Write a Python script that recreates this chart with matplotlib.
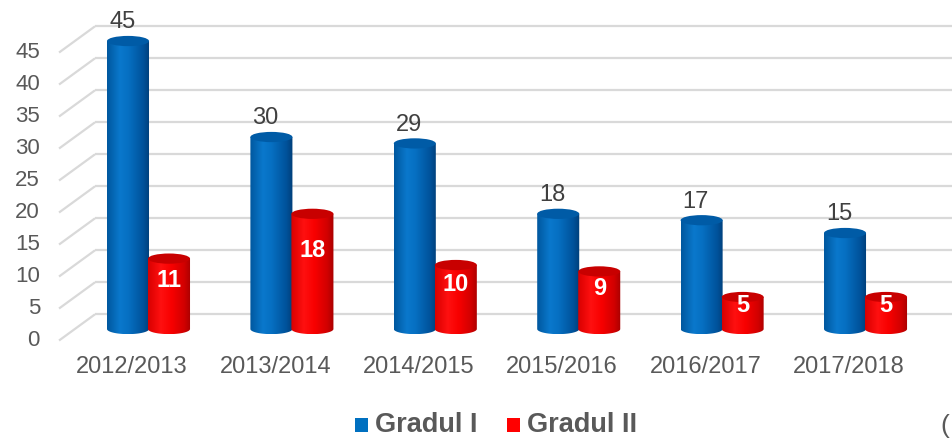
import numpy as np
import matplotlib
matplotlib.use("Agg")
import matplotlib.pyplot as plt
from matplotlib.patches import Ellipse, PathPatch, Rectangle
from matplotlib.path import Path
from matplotlib.colors import LinearSegmentedColormap

plt.rcParams['font.family'] = ['Liberation Sans', 'DejaVu Sans']

categories = ['2012/2013', '2013/2014', '2014/2015', '2015/2016', '2016/2017', '2017/2018']
gradul_1 = [45, 30, 29, 18, 17, 15]
gradul_2 = [11, 18, 10, 9, 5, 5]
y_ticks = [0, 5, 10, 15, 20, 25, 30, 35, 40, 45]
series_names = ['Gradul I', 'Gradul II']

W, H = 952, 438
fig = plt.figure(figsize=(W / 100, H / 100), dpi=100)
ax = fig.add_axes([0, 0, 1, 1])
ax.set_xlim(-1.0356, 5.603)
ax.set_ylim(-17.03, 51.41)
ax.axis('off')

grid_c = '#D9D9D9'
text_c = '#595959'

# 3D-like gridlines (front-left diagonal + back wall)
for v in y_ticks:
    ax.plot([-0.624, -0.373], [v - 1.8, v + 2.3], color=grid_c, lw=1.6, zorder=1,
            solid_capstyle='butt')
    ax.plot([-0.373, 5.7], [v + 2.3, v + 2.3], color=grid_c, lw=1.6, zorder=1,
            solid_capstyle='butt')
    ax.text(-0.757, v - 1.8, str(v), ha='right', va='center', fontsize=16, color=text_c)

blue_cmap = LinearSegmentedColormap.from_list(
    'b', [(0, '#00579E'), (0.3, '#0A78CC'), (0.5, '#0670C2'), (0.85, '#00529A'), (1, '#003E78')])
red_cmap = LinearSegmentedColormap.from_list(
    'r', [(0, '#D80000'), (0.3, '#FF1010'), (0.55, '#F80000'), (0.85, '#D00000'), (1, '#A80000')])

bw = 0.293
eh = 1.6
grad = np.linspace(0, 1, 256).reshape(1, -1)


def cylinder(xc, v, cmap, top_color, z):
    x0, x1 = xc - bw / 2, xc + bw / 2
    t = np.linspace(0, -np.pi, 40)
    pts = [(x0, 0), (x0, v), (x1, v), (x1, 0)]
    pts += [(xc + bw / 2 * np.cos(a), (eh / 2) * np.sin(a)) for a in t]
    pts.append((x0, 0))
    path = Path(pts)
    patch = PathPatch(path, facecolor='none', edgecolor='none', zorder=z)
    ax.add_patch(patch)
    im = ax.imshow(grad, cmap=cmap, aspect='auto', extent=[x0, x1, -eh / 2, v],
                   interpolation='bilinear', zorder=z)
    im.set_clip_path(patch)
    ax.add_patch(Ellipse((xc, v), bw, eh, facecolor=top_color, edgecolor='none', zorder=z + 0.1))


for i, (b, r) in enumerate(zip(gradul_1, gradul_2)):
    xb = i - 0.143
    xr = i + 0.143
    cylinder(xb, b, blue_cmap, '#005BA6', 3)
    cylinder(xr, r, red_cmap, '#C80000', 4)
    ax.text(xb - 0.04, b + 2.9, str(b), ha='center', va='center', fontsize=17, color='#404040', zorder=6)
    ax.text(xr, 0.65 * r + 0.5, str(r), ha='center', va='center', fontsize=17, color='white',
            fontweight='bold', zorder=6)
    ax.text(i - 0.115, -5.94, categories[i], ha='center', va='center', fontsize=17, color=text_c)

ax.set_xlim(-1.0356, 5.603)
ax.set_ylim(-17.03, 51.41)

# legend
for (x0, name, col) in [(355, series_names[0], '#0070C0'), (507, series_names[1], '#FF0000')]:
    fig.patches.append(Rectangle((x0 / W, (H - 432) / H), 13 / W, 14 / H, transform=fig.transFigure,
                                 facecolor=col, edgecolor='none'))
    fig.text((x0 + 20) / W, (H - 425) / H, name, ha='left', va='center', fontsize=19.5,
             fontweight='bold', color=text_c)

fig.text(940 / W, (H - 426) / H, '(', ha='left', va='center', fontsize=19, color=text_c)

fig.savefig('out.png', dpi=100)
